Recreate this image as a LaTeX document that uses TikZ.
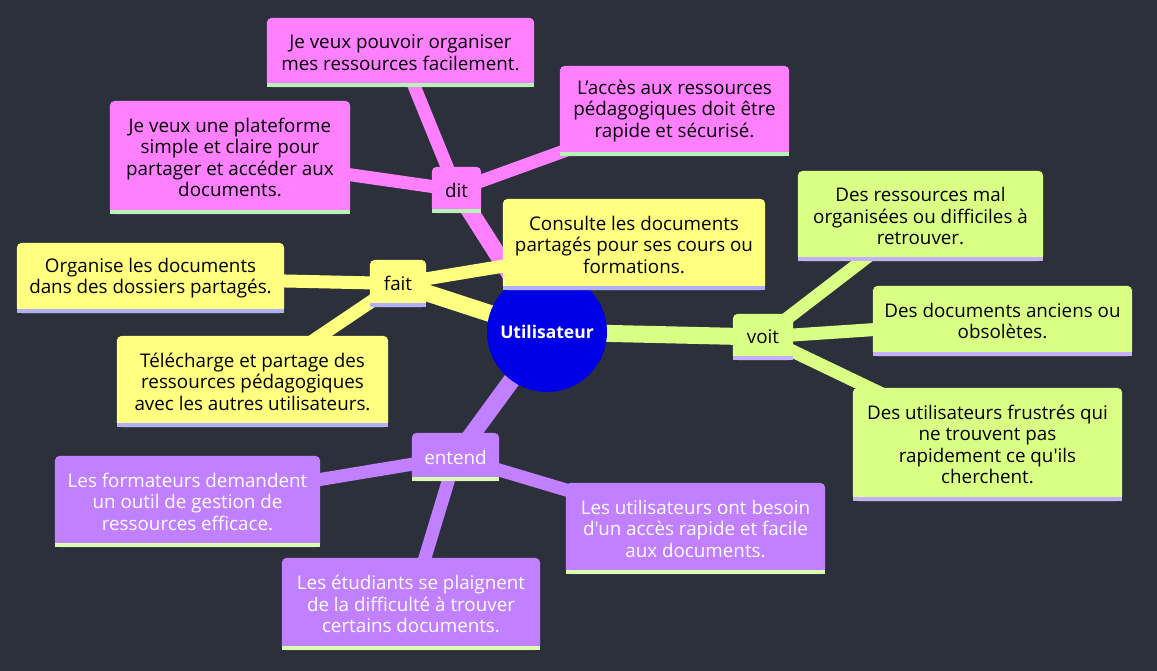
\documentclass[tikz,border=0pt]{standalone}
\usepackage{fontspec}
\setmainfont{Open Sans}[Ligatures=TeXOff]
\usetikzlibrary{calc}
\pgfdeclarelayer{bgl}
\pgfdeclarelayer{edges}
\pgfdeclarelayer{boxbg}
\pgfsetlayers{bgl,edges,boxbg,main}
\definecolor{bgc}{HTML}{2B303B}
\definecolor{rootc}{HTML}{0000E6}
\definecolor{pinkc}{HTML}{FF80FF}
\definecolor{pinkbar}{HTML}{B5F5B5}
\definecolor{yelc}{HTML}{FFFF80}
\definecolor{yelbar}{HTML}{B0B0FF}
\definecolor{grnc}{HTML}{DAFF85}
\definecolor{grnbar}{HTML}{C4B0FF}
\definecolor{purc}{HTML}{C080FF}
\definecolor{purbar}{HTML}{D8FFB0}
\tikzset{
  box/.style={inner sep=0pt, align=center, font=\fontsize{18.8}{21.5}\selectfont},
  edgeone/.style={line width=17pt},
  edgetwo/.style={line width=13pt},
}
% name, position, width, height, fill, bar, text colour, text
\newcommand\mmnode[8]{%
  \node[box, minimum width=#3pt, minimum height=#4pt, text=#7] (#1) at (#2) {#8};
  \begin{pgfonlayer}{boxbg}
    \fill[#5, rounded corners=5pt] (#1.south west) rectangle (#1.north east);
    \fill[#5] (#1.south west) rectangle (#1.east);
    \fill[#6] (#1.south west) rectangle ($(#1.south east)+(0,-4)$);
  \end{pgfonlayer}
}
\begin{document}
\begin{tikzpicture}[x=1pt, y=-1pt]
\begin{pgfonlayer}{bgl}
  \fill[bgc] (0,0) rectangle (1157,671);
\end{pgfonlayer}
\useasboundingbox (0,0) rectangle (1157,671);

% root
\node[circle, minimum size=120pt, inner sep=0pt, text=white, font=\bfseries\fontsize{17.5}{21}\selectfont] (root) at (547,332) {Utilisateur};
\begin{pgfonlayer}{boxbg}
  \fill[rootc] (root.center) circle (60pt);
\end{pgfonlayer}

% categories
\mmnode{dit}{456.5,190}{49}{46}{pinkc}{pinkbar}{black}{dit}
\mmnode{fait}{398,283.5}{56}{47}{yelc}{yelbar}{black}{fait}
\mmnode{voit}{763,337}{60}{46}{grnc}{grnbar}{black}{voit}
\mmnode{entend}{455.5,457}{87}{48}{purc}{purbar}{white}{entend}

% dit leaves
\mmnode{d1}{400.5,52.5}{267}{69}{pinkc}{pinkbar}{black}{Je veux pouvoir organiser\\mes ressources facilement.}
\mmnode{d2}{674.5,111}{229}{90}{pinkc}{pinkbar}{black}{L’accès aux ressources\\pédagogiques doit être\\rapide et sécurisé.}
\mmnode{d3}{230,157.5}{240}{113}{pinkc}{pinkbar}{black}{Je veux une plateforme\\simple et claire pour\\partager et accéder aux\\documents.}

% fait leaves
\mmnode{f1}{634,244.5}{262}{91}{yelc}{yelbar}{black}{Consulte les documents\\partagés pour ses cours ou\\formations.}
\mmnode{f2}{150.5,278}{267}{70}{yelc}{yelbar}{black}{Organise les documents\\dans des dossiers partagés.}
\mmnode{f3}{252.5,381.5}{271}{91}{yelc}{yelbar}{black}{Télécharge et partage des\\ressources pédagogiques\\avec les autres utilisateurs.}

% voit leaves
\mmnode{v1}{920.5,216}{245}{90}{grnc}{grnbar}{black}{Des ressources mal\\organisées ou difficiles à\\retrouver.}
\mmnode{v2}{1002.5,321}{259}{70}{grnc}{grnbar}{black}{Des documents anciens ou\\obsolètes.}
\mmnode{v3}{987.5,444.5}{269}{113}{grnc}{grnbar}{black}{Des utilisateurs frustrés qui\\ne trouvent pas\\rapidement ce qu'ils\\cherchent.}

% entend leaves
\mmnode{e1}{187.5,501.5}{265}{91}{purc}{purbar}{white}{Les formateurs demandent\\un outil de gestion de\\ressources efficace.}
\mmnode{e2}{695.5,528.5}{259}{91}{purc}{purbar}{white}{Les utilisateurs ont besoin\\d'un accès rapide et facile\\aux documents.}
\mmnode{e3}{411,604}{258}{92}{purc}{purbar}{white}{Les étudiants se plaignent\\de la difficulté à trouver\\certains documents.}

% edges
\begin{pgfonlayer}{edges}
  \draw[edgeone, pinkc] (root.center) -- (dit.center);
  \draw[edgeone, yelc] (root.center) -- (fait.center);
  \draw[edgeone, grnc] (root.center) -- (voit.center);
  \draw[edgeone, purc] (root.center) -- (entend.center);
  \draw[edgetwo, pinkc] (dit.center) -- (d1.center);
  \draw[edgetwo, pinkc] (dit.center) -- (d2.center);
  \draw[edgetwo, pinkc] (dit.center) -- (d3.center);
  \draw[edgetwo, yelc] (fait.center) -- (f1.center);
  \draw[edgetwo, yelc] (fait.center) -- (f2.center);
  \draw[edgetwo, yelc] (fait.center) -- (f3.center);
  \draw[edgetwo, grnc] (voit.center) -- (v1.center);
  \draw[edgetwo, grnc] (voit.center) -- (v2.center);
  \draw[edgetwo, grnc] (voit.center) -- (v3.center);
  \draw[edgetwo, purc] (entend.center) -- (e1.center);
  \draw[edgetwo, purc] (entend.center) -- (e2.center);
  \draw[edgetwo, purc] (entend.center) -- (e3.center);
\end{pgfonlayer}
\end{tikzpicture}
\end{document}
